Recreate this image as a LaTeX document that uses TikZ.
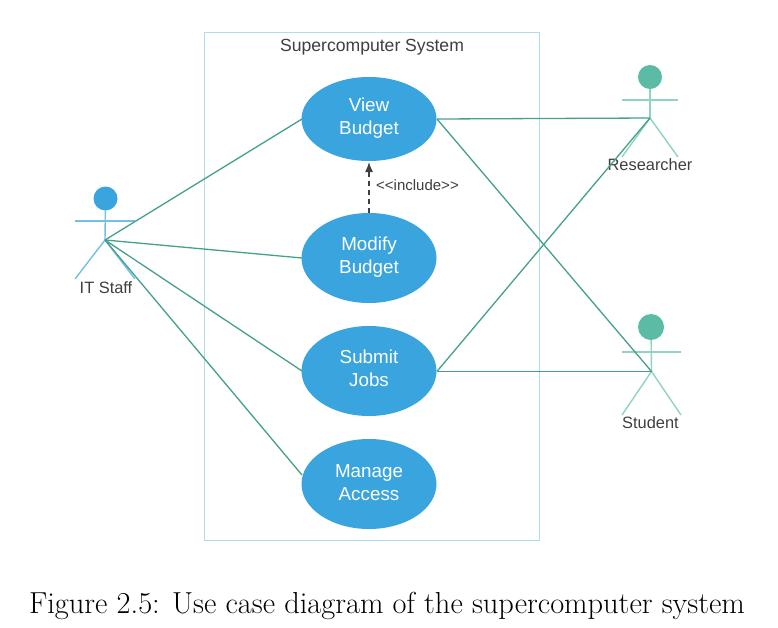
\documentclass[tikz,border=0pt]{standalone}
\usepackage{fontspec}
\setmainfont{Liberation Sans}
\newfontfamily\capfont{Latin Modern Roman}
\usetikzlibrary{arrows.meta,shapes.geometric}
\definecolor{ucblue}{HTML}{3AA4DF}
\definecolor{frameblue}{HTML}{B0DCF0}
\definecolor{teal1}{HTML}{5BBBA5}
\definecolor{tealline}{HTML}{45A08C}
\definecolor{limbblue}{HTML}{74BFE6}
\definecolor{limbteal}{HTML}{8FD3C3}
\definecolor{labelgrey}{HTML}{3F3F3F}
\tikzset{
  usecase/.style={ellipse,fill=ucblue,minimum width=135pt,minimum height=90pt,inner sep=0pt,align=center,text=white,text depth=6pt,font=\fontsize{18.8}{22.8}\selectfont},
  assoc/.style={draw=tealline,line width=1.3pt},
  limbB/.style={draw=limbblue,line width=1.4pt},
  limbT/.style={draw=limbteal,line width=1.4pt},
  actorlabel/.style={text=labelgrey,font=\fontsize{16.4}{18}\selectfont,inner sep=0pt},
  headshape/.style={circle,inner sep=0pt}
}
\begin{document}
\begin{tikzpicture}[x=1pt,y=-1pt]
\useasboundingbox (0,0) rectangle (778,627);
\fill[white] (0,0) rectangle (778,627);
\node[draw=frameblue,line width=1pt,minimum width=335pt,minimum height=508pt,inner sep=0pt] (sys) at (371.5,286) {};
\node[text=labelgrey,font=\fontsize{17.6}{20}\selectfont,inner sep=0pt] (title) at (372,47) {Supercomputer System};
\node[usecase,minimum height=84pt] (view) at (369,119) {View\\Budget};
\node[usecase] (modify) at (369,258) {Modify\\Budget};
\node[usecase] (submit) at (369,371) {Submit\\Jobs};
\node[usecase,text depth=3pt] (manage) at (369,484) {Manage\\Access};
% IT Staff
\node[headshape,fill=ucblue,minimum size=24pt] (ithead) at (105.5,198.5) {};
\coordinate (ithub) at (105,240);
\coordinate (itl) at (75,221); \coordinate (itr) at (135,221);
\coordinate (itfl) at (75,279); \coordinate (itfr) at (135,279);
\draw[limbB] (ithead) -- (ithub);
\draw[limbB] (itl) -- (itr);
\draw[limbB] (itfl) -- (ithub) -- (itfr);
\node[actorlabel] (itlab) at (106,287.5) {IT Staff};
% Researcher
\node[headshape,fill=teal1,minimum size=24pt] (rhead) at (650,77) {};
\coordinate (rhub) at (650,118);
\coordinate (rl) at (622,100); \coordinate (rr) at (678,100);
\coordinate (rfl) at (622,157); \coordinate (rfr) at (678,157);
\draw[limbT] (rhead) -- (rhub);
\draw[limbT] (rl) -- (rr);
\draw[limbT] (rfl) -- (rhub) -- (rfr);
\node[actorlabel] (rlab) at (650,164.5) {Researcher};
% Student
\node[headshape,fill=teal1,minimum size=26pt] (shead) at (651,327) {};
\coordinate (shub) at (651.5,371.4);
\coordinate (sl) at (622,352); \coordinate (sr) at (681,352);
\coordinate (sfl) at (622,415); \coordinate (sfr) at (681,415);
\draw[limbT] (shead) -- (shub);
\draw[limbT] (sl) -- (sr);
\draw[limbT] (sfl) -- (shub) -- (sfr);
\node[actorlabel] (slab) at (650.5,422.7) {Student};
% Associations
\coordinate (viewE) at (437,119);
\coordinate (subE) at (437,371.4);
\coordinate (viewW) at (302,119);
\coordinate (modW) at (302,258);
\coordinate (subW) at (302,371);
\coordinate (manW) at (302,475);
\draw[assoc] (ithub) -- (viewW);
\draw[assoc] (ithub) -- (modW);
\draw[assoc] (ithub) -- (subW);
\draw[assoc] (ithub) -- (manW);
\draw[assoc] (viewE) -- (rhub);
\draw[assoc] (viewE) -- (shub);
\draw[assoc] (subE) -- (rhub);
\draw[assoc] (subE) -- (shub);
% Include
\coordinate (incS) at (369,213);
\coordinate (incT) at (369,162);
\draw[draw=black!75,line width=1.3pt,dash pattern=on 5pt off 4pt,-{Latex[length=10pt,width=8pt]}] (incS) -- (incT);
\node[anchor=west,text=labelgrey,font=\fontsize{15}{16}\selectfont,inner sep=0pt] (inclab) at (376,185.5) {<{}<include>{}>};
% Caption
\node[text=black,font=\capfont\fontsize{30.4}{32}\selectfont,inner sep=0pt] (cap) at (387,605.5) {Figure 2.5: Use case diagram of the supercomputer system};
\end{tikzpicture}
\end{document}
